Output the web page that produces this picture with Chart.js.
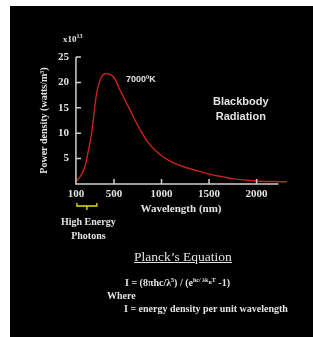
<!DOCTYPE html>
<html>
<head>
<meta charset="utf-8">
<script src="https://cdn.jsdelivr.net/npm/chart.js@4"></script>
<style>
	html, body { margin: 0; padding: 0; background: #fff; }
	#wrap { position: relative; width: 313px; height: 337px; overflow: hidden; }
	#panel { position: absolute; left: 10px; top: 6px; width: 303px; height: 331px; background: #000; }
	#chart { position: absolute; left: 0; top: 0; }
	.lbl { position: absolute; color: #e2e2e2; white-space: nowrap; }
	.serif { font-family: "Liberation Serif", "DejaVu Serif", serif; font-weight: bold; }
	.sans { font-family: "Liberation Sans", Arial, sans-serif; font-weight: bold; }
</style>
</head>
<body>
<div id="wrap">
	<div id="panel"></div>
	<canvas id="chart" width="313" height="337"></canvas>
	<div class="lbl serif" style="left:63px; top:33px; font-size:9px;">x10<sup style="font-size:6px;">13</sup></div>
	<div class="lbl sans" style="left:126px; top:74px; font-size:9px;">7000ºK</div>
	<div class="lbl sans" style="left:213px; top:94px; font-size:11px; text-align:center; line-height:15px;">Blackbody<br>Radiation</div>
	<div class="lbl serif" style="left:61px; top:215px; font-size:10px; text-align:center; line-height:14px;">High Energy<br>Photons</div>
	<div class="lbl serif" style="left:134px; top:249px; font-size:13.5px; font-weight:normal; text-decoration:underline;">Planck’s Equation</div>
	<div class="lbl serif" style="left:125px; top:277px; font-size:10px;">I = (8πhc/λ<sup style="font-size:6px;">5</sup>) / (e<sup style="font-size:6px;">hc/ λk<sub style="font-size:5px;">B</sub>T</sup> -1)</div>
	<div class="lbl serif" style="left:107px; top:290px; font-size:10px;">Where</div>
	<div class="lbl serif" style="left:124px; top:303px; font-size:10px;">I = energy density per unit wavelength</div>
</div>
<script>
	// wavelength (nm) and power density (x10^13 W/m^3)
	const wavelength = [100, 150, 195, 230, 265, 318, 360, 405, 493, 563, 668, 774, 879, 984, 1100, 1265, 1400, 1510, 1650, 1756, 1900, 2037, 2180, 2318];
	const power = [0.5, 1.6, 3.5, 6.5, 10.0, 17.9, 20.7, 21.7, 21.1, 18.5, 14.6, 10.7, 7.7, 5.8, 4.4, 3.2, 2.5, 1.9, 1.4, 1.0, 0.75, 0.55, 0.48, 0.43];
	const xTicks = [100, 500, 1000, 1500, 2000];
	const yTicks = [5, 10, 15, 20, 25];

	const axisColor = '#cfcfcf';
	const textColor = '#e2e2e2';
	const serifFont = { family: '"Liberation Serif", "DejaVu Serif", serif', weight: 'bold', size: 11 };

	// axis lines with the tick marks pointing into the plot, plus the yellow bracket
	const axesPlugin = {
		id: 'axesPlugin',
		afterDraw(chart) {
			const ctx = chart.ctx;
			const x = chart.scales.x;
			const y = chart.scales.y;
			const x0 = x.getPixelForValue(100);
			const y0 = y.getPixelForValue(0);
			ctx.save();
			ctx.strokeStyle = axisColor;
			ctx.lineWidth = 1.5;
			ctx.beginPath();
			ctx.moveTo(x0, y.getPixelForValue(25));
			ctx.lineTo(x0, y0);
			ctx.lineTo(x.getPixelForValue(2230), y0);
			xTicks.forEach(v => {
				if (v === 100) return;
				const px = x.getPixelForValue(v);
				ctx.moveTo(px, y0);
				ctx.lineTo(px, y0 - 5);
			});
			yTicks.forEach(v => {
				const py = y.getPixelForValue(v);
				ctx.moveTo(x0, py);
				ctx.lineTo(x0 + 5, py);
			});
			ctx.stroke();

			// bracket under 100..300 nm
			const b0 = x.getPixelForValue(110);
			const b1 = x.getPixelForValue(320);
			const by = y0 + 22;
			ctx.strokeStyle = '#e8e000';
			ctx.lineWidth = 1.3;
			ctx.beginPath();
			ctx.moveTo(b0, by - 3);
			ctx.lineTo(b0, by);
			ctx.lineTo(b1, by);
			ctx.lineTo(b1, by - 3);
			ctx.moveTo((b0 + b1) / 2, by);
			ctx.lineTo((b0 + b1) / 2, by + 4);
			ctx.stroke();
			ctx.restore();
		}
	};

	new Chart(document.getElementById('chart'), {
		type: 'line',
		data: {
			datasets: [{
				data: wavelength.map((w, i) => ({ x: w, y: power[i] })),
				borderColor: '#c8231a',
				borderWidth: 1.4,
				pointRadius: 0,
				tension: 0.4,
				fill: false,
			}]
		},
		options: {
			responsive: false,
			animation: false,
			layout: { padding: { top: 57, right: 26, bottom: 117, left: 10 } },
			plugins: { legend: { display: false }, tooltip: { enabled: false } },
			scales: {
				x: {
					type: 'linear',
					min: 90,
					max: 2320,
					afterBuildTicks: (scale) => { scale.ticks = xTicks.map(v => ({ value: v })); },
					afterFit: (scale) => { scale.height = 36; },
					grid: { display: false, drawTicks: false },
					border: { display: false },
					ticks: { color: textColor, font: serifFont, padding: 4, maxRotation: 0, callback: (v) => String(v) },
					title: { display: true, text: 'Wavelength (nm)', color: textColor, font: serifFont, padding: { top: 0 } },
				},
				y: {
					min: 0,
					max: 25,
					afterBuildTicks: (scale) => { scale.ticks = yTicks.map(v => ({ value: v })); },
					afterFit: (scale) => { scale.width = 65; },
					grid: { display: false, drawTicks: false },
					border: { display: false },
					ticks: { color: textColor, font: serifFont, padding: 6, callback: (v) => String(v) },
					title: { display: true, text: 'Power density (watts/m³)', color: textColor, font: { ...serifFont, size: 10 }, padding: { top: 28 } },
				}
			}
		},
		plugins: [axesPlugin]
	});
</script>
</body>
</html>
